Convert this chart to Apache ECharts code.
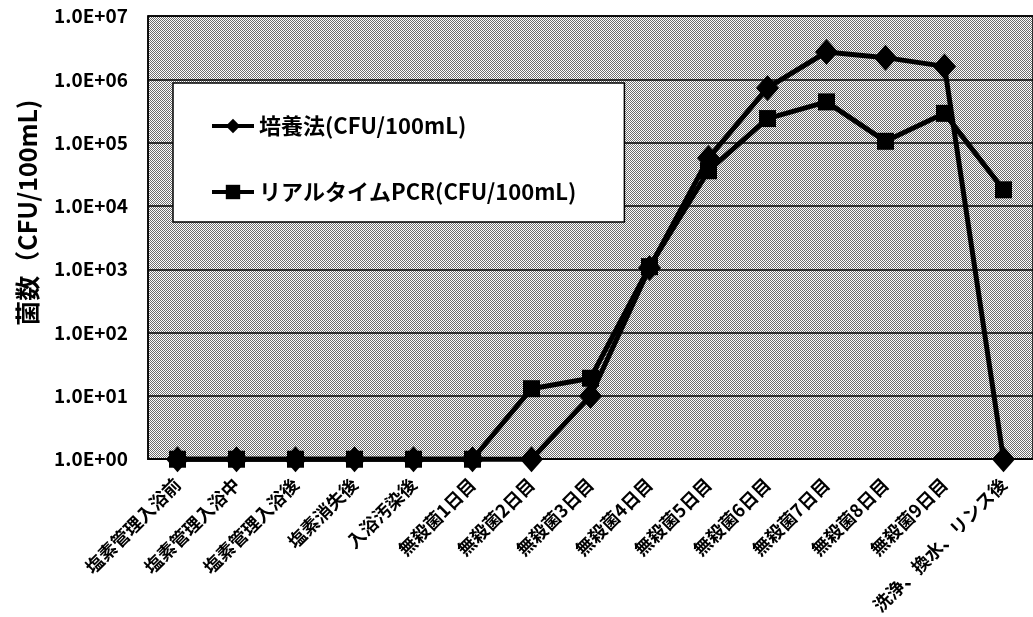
<!DOCTYPE html>
<html>
<head>
<meta charset="utf-8">
<script src="https://cdn.jsdelivr.net/npm/echarts@6/dist/echarts.min.js"></script>
<style>
  html, body { margin: 0; padding: 0; background: #fff; }
  #chart { width: 1033px; height: 617px; }
</style>
</head>
<body>
<div id="chart"></div>
<script>
// Sampling points (bath condition / day without disinfection)
const categories = [
  '塩素管理入浴前', '塩素管理入浴中', '塩素管理入浴後', '塩素消失後', '入浴汚染後',
  '無殺菌1日目', '無殺菌2日目', '無殺菌3日目', '無殺菌4日目', '無殺菌5日目',
  '無殺菌6日目', '無殺菌7日目', '無殺菌8日目', '無殺菌9日目', '洗浄、換水、リンス後'
];

// Culture method counts (CFU/100mL)
const cultureValues = [1, 1, 1, 1, 1, 1, 1, 10, 1050, 57000, 730000, 2700000, 2200000, 1600000, 1];

// Real-time PCR counts (CFU/100mL)
const pcrValues = [1, 1, 1, 1, 1, 1, 13, 19, 1100, 36000, 240000, 440000, 105000, 290000, 18000];

const seriesNames = ['培養法(CFU/100mL)', 'リアルタイムPCR(CFU/100mL)'];
const yAxisTitle = '菌数（CFU/100mL)';

const FONT = "'Noto Sans CJK JP', 'Noto Sans', sans-serif";

// halftone fill for the plot area
function halftone() {
  const c = document.createElement('canvas');
  c.width = 4; c.height = 4;
  const g = c.getContext('2d');
  g.fillStyle = '#ffffff';
  g.fillRect(0, 0, 4, 4);
  g.fillStyle = '#6e6e6e';
  for (let y = 0; y < 4; y++) {
    for (let x = 0; x < 4; x++) {
      if ((x + y) % 2 === 0) g.fillRect(x, y, 1, 1);
    }
  }
  return c;
}

function sci(v) {
  const e = Math.round(Math.log10(v));
  return '1.0E+' + (e < 10 ? '0' + e : e);
}

const chart = echarts.init(document.getElementById('chart'), null, { renderer: 'canvas' });

chart.setOption({
  animation: false,
  backgroundColor: '#ffffff',
  textStyle: { fontFamily: FONT },
  grid: {
    left: 148, top: 16, right: -6, bottom: 151,
    show: true,
    backgroundColor: { image: halftone(), repeat: 'repeat' },
    borderColor: '#000', borderWidth: 1.5
  },
  legend: {
    orient: 'vertical',
    left: 173, top: 83,
    padding: [30, 48, 17, 37],
    itemGap: 40,
    itemWidth: 42, itemHeight: 18,
    backgroundColor: '#ffffff',
    borderColor: '#000', borderWidth: 1.5,
    lineStyle: { width: 4, color: '#000' },
    textStyle: { fontFamily: FONT, fontSize: 22, fontWeight: 'bold', color: '#000', lineHeight: 26 },
    data: seriesNames
  },
  xAxis: {
    type: 'category',
    data: categories,
    boundaryGap: true,
    axisLine: { show: true, lineStyle: { color: '#000', width: 1.5 } },
    axisTick: { show: false },
    axisLabel: {
      interval: 0, rotate: 45, margin: 22,
      fontFamily: FONT, fontSize: 18, fontWeight: 'bold', color: '#000'
    },
    splitLine: { show: false }
  },
  yAxis: {
    type: 'log',
    logBase: 10,
    min: 1, max: 1e7,
    name: yAxisTitle,
    nameLocation: 'middle',
    nameGap: 108,
    nameRotate: 90,
    nameTextStyle: { fontFamily: FONT, fontSize: 25, fontWeight: 'bold', color: '#000', padding: [0, 0, 0, 50] },
    axisLine: { show: true, lineStyle: { color: '#000', width: 1.5 } },
    axisTick: { show: false },
    minorTick: { show: false },
    axisLabel: {
      margin: 20,
      fontFamily: FONT, fontSize: 19, fontWeight: 'bold', color: '#000',
      formatter: sci
    },
    splitLine: { show: true, lineStyle: { color: '#000', width: 1.5 } }
  },
  series: [
    {
      name: seriesNames[1],
      type: 'line',
      data: pcrValues,
      symbol: 'rect',
      symbolSize: 17,
      clip: false,
      lineStyle: { color: '#000', width: 5 },
      itemStyle: { color: '#000' }
    },
    {
      name: seriesNames[0],
      type: 'line',
      data: cultureValues,
      symbol: 'diamond',
      symbolSize: [23, 26],
      clip: false,
      lineStyle: { color: '#000', width: 5 },
      itemStyle: { color: '#000' }
    }
  ]
});
</script>
</body>
</html>
